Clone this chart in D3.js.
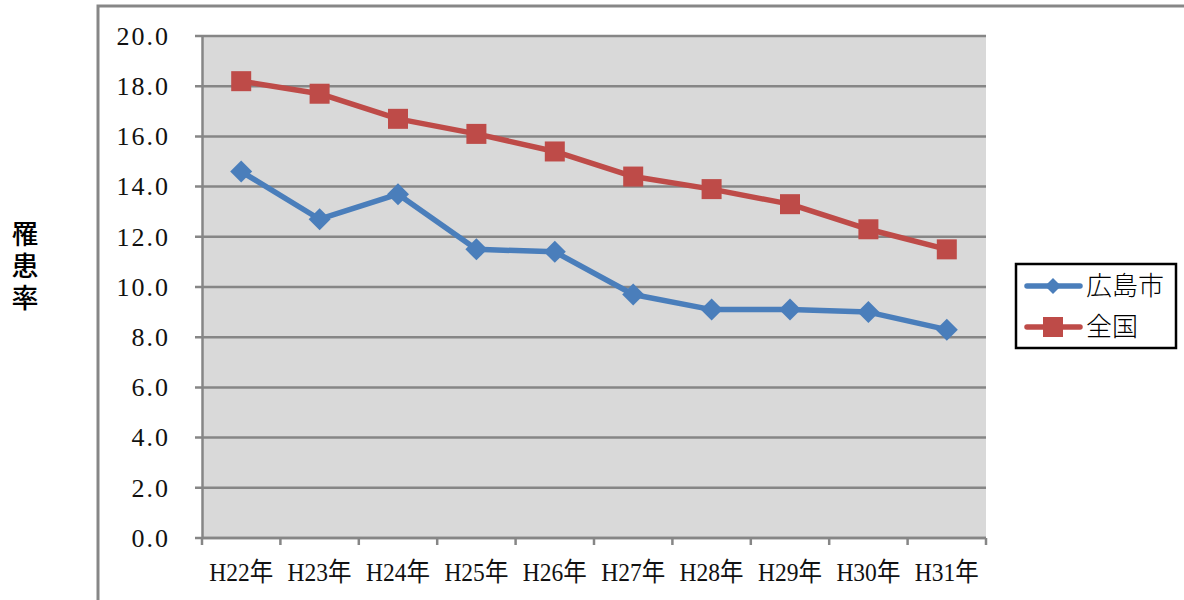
<!DOCTYPE html>
<html>
<head>
<meta charset="utf-8">
<script src="https://cdn.jsdelivr.net/npm/d3@7"></script>
<style>
  html, body { margin: 0; padding: 0; background: #fff; }
  svg { display: block; }
</style>
</head>
<body>
<svg id="chart" width="1184" height="600"></svg>
<script>
// Incidence rate by fiscal year
const years = ["H22年", "H23年", "H24年", "H25年", "H26年", "H27年", "H28年", "H29年", "H30年", "H31年"];
const hiroshima = [14.6, 12.7, 13.7, 11.5, 11.4, 9.7, 9.1, 9.1, 9.0, 8.3];
const national = [18.2, 17.7, 16.7, 16.1, 15.4, 14.4, 13.9, 13.3, 12.3, 11.5];
const yTicks = [0, 2, 4, 6, 8, 10, 12, 14, 16, 18, 20];
const seriesNames = ["広島市", "全国"];

const svg = d3.select("#chart");
const W = 1184, H = 600;
const plot = { left: 202, right: 986, top: 36, bottom: 538 };
const numFont = "'Liberation Serif', 'Noto Sans CJK JP', serif";
const gridColor = "#868686";
const blue = "#4a7ebb", red = "#be4b48";

// Outer chart frame
svg.append("rect")
  .attr("x", 98).attr("y", 6)
  .attr("width", W).attr("height", H)
  .attr("fill", "#fff").attr("stroke", "#878787").attr("stroke-width", 3);

const x = d3.scaleBand().domain(years).range([plot.left, plot.right]);
const y = d3.scaleLinear().domain([0, 20]).range([plot.bottom, plot.top]);

// Plot background
svg.append("rect")
  .attr("x", plot.left).attr("y", plot.top)
  .attr("width", plot.right - plot.left).attr("height", plot.bottom - plot.top)
  .attr("fill", "#d9d9d9");

// Horizontal grid lines
svg.append("g").selectAll("line").data(yTicks).join("line")
  .attr("x1", plot.left - 7).attr("x2", plot.right)
  .attr("y1", d => y(d)).attr("y2", d => y(d))
  .attr("stroke", gridColor).attr("stroke-width", 2.5);

// Y axis
const yAxis = svg.append("g")
  .attr("transform", `translate(${plot.left},0)`)
  .call(d3.axisLeft(y).tickValues(yTicks).tickFormat(d3.format(".1f")).tickSize(0).tickPadding(32));
yAxis.select(".domain").attr("stroke", gridColor).attr("stroke-width", 2.5);
yAxis.selectAll("text")
  .attr("font-family", numFont).attr("font-size", 26).attr("fill", "#111")
  .attr("letter-spacing", 2);

// X axis with ticks at category boundaries
const bounds = years.map(d => x(d)).concat([plot.right]);
const xg = svg.append("g");
xg.append("line")
  .attr("x1", plot.left).attr("x2", plot.right)
  .attr("y1", plot.bottom).attr("y2", plot.bottom)
  .attr("stroke", gridColor).attr("stroke-width", 2.5);
xg.selectAll("line.tick").data(bounds).join("line")
  .attr("class", "tick")
  .attr("x1", d => d).attr("x2", d => d)
  .attr("y1", plot.bottom).attr("y2", plot.bottom + 7)
  .attr("stroke", gridColor).attr("stroke-width", 2.5);
xg.selectAll("text").data(years).join("text")
  .attr("x", d => x(d) + x.bandwidth() / 2)
  .attr("y", 581)
  .attr("text-anchor", "middle")
  .attr("font-family", numFont).attr("font-size", 26).attr("fill", "#111")
  .attr("textLength", 64).attr("lengthAdjust", "spacingAndGlyphs")
  .text(d => d);

// Y axis title, written vertically
svg.append("text")
  .attr("x", 25).attr("y", 220)
  .attr("writing-mode", "tb")
  .attr("font-family", "'Noto Sans CJK JP', sans-serif")
  .attr("font-size", 27).attr("font-weight", 500).attr("fill", "#000")
  .attr("letter-spacing", 5)
  .text("罹患率");

const cx = d => x(d) + x.bandwidth() / 2;
const line = d3.line().x((d, i) => cx(years[i])).y(d => y(d));

// 全国 series (squares)
svg.append("path").datum(national)
  .attr("d", line).attr("fill", "none")
  .attr("stroke", red).attr("stroke-width", 5.5).attr("stroke-linejoin", "round");
svg.append("g").selectAll("rect").data(national).join("rect")
  .attr("x", (d, i) => cx(years[i]) - 10).attr("y", d => y(d) - 10)
  .attr("width", 20).attr("height", 20).attr("fill", red);

// 広島市 series (diamonds)
svg.append("path").datum(hiroshima)
  .attr("d", line).attr("fill", "none")
  .attr("stroke", blue).attr("stroke-width", 5.5).attr("stroke-linejoin", "round");
const diamond = "M0,-11L11,0L0,11L-11,0Z";
svg.append("g").selectAll("path").data(hiroshima).join("path")
  .attr("transform", (d, i) => `translate(${cx(years[i])},${y(d)})`)
  .attr("d", diamond).attr("fill", blue);

// Legend
const lg = svg.append("g");
lg.append("rect")
  .attr("x", 1016).attr("y", 264).attr("width", 160).attr("height", 84)
  .attr("fill", "#fff").attr("stroke", "#000").attr("stroke-width", 2.5);
const legendRows = [
  { name: seriesNames[0], color: blue, shape: "diamond", y: 286 },
  { name: seriesNames[1], color: red, shape: "square", y: 327 }
];
legendRows.forEach(r => {
  lg.append("line")
    .attr("x1", 1027).attr("x2", 1080).attr("y1", r.y).attr("y2", r.y)
    .attr("stroke", r.color).attr("stroke-width", 5.5).attr("stroke-linecap", "round");
  if (r.shape === "diamond") {
    lg.append("path").attr("transform", `translate(1053,${r.y})`)
      .attr("d", "M0,-8L8,0L0,8L-8,0Z").attr("fill", r.color);
  } else {
    lg.append("rect").attr("x", 1043).attr("y", r.y - 10)
      .attr("width", 20).attr("height", 20).attr("fill", r.color);
  }
  lg.append("text")
    .attr("x", 1086).attr("y", r.y + 9)
    .attr("font-family", "'Noto Sans CJK JP', sans-serif")
    .attr("font-size", 26).attr("font-weight", 300).attr("fill", "#000")
    .text(r.name);
});
</script>
</body>
</html>
